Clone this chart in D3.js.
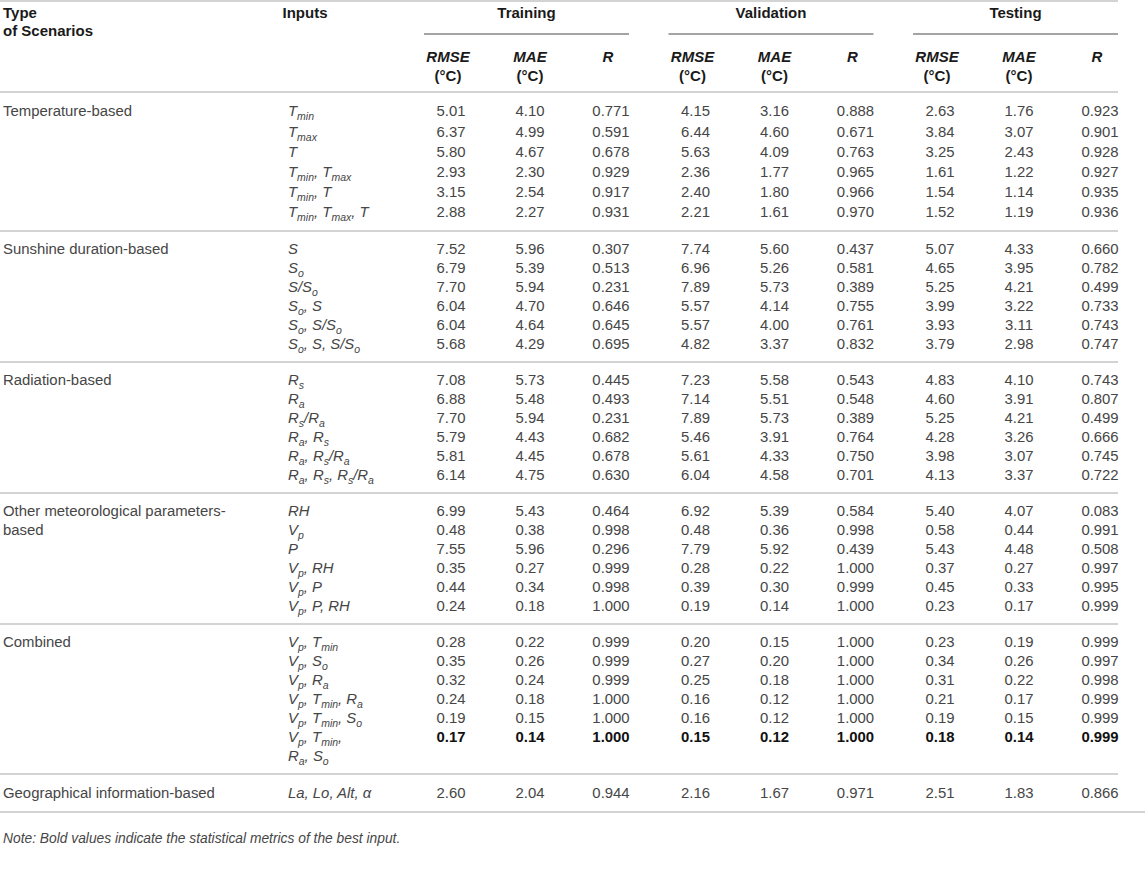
<!DOCTYPE html>
<html lang="en">
<head>
    <meta charset="UTF-8">
    <title>Scenario metrics table</title>
    <style>
        body { margin: 0; background: #fff; }
        svg text { font-family: "Liberation Sans", Arial, Helvetica, sans-serif; }
        .body-text { font-size: 14.9px; fill: #464646; }
        .head-text { font-size: 15px; font-weight: bold; fill: #1a1a1a; }
        .rule { stroke: #c4c4c4; stroke-width: 1.6; }
        .group-rule { stroke: #4a4a4a; stroke-width: 1.2; }
    </style>
    <script src="https://d3js.org/d3.v7.min.js"></script>
</head>
<body>
    <svg width="1145" height="873"></svg>
    <script>
        // scenario names (second entry of a pair is the wrapped line)
        const scenarios = [
            ["Temperature-based"],
            ["Sunshine duration-based"],
            ["Radiation-based"],
            ["Other meteorological parameters-", "based"],
            ["Combined"],
            ["Geographical information-based"]
        ];
        // "_xx" marks a subscript, "|" marks a line break
        const inputs = [
            ["T_min", "T_max", "T", "T_min, T_max", "T_min, T", "T_min, T_max, T"],
            ["S", "S_o", "S/S_o", "S_o, S", "S_o, S/S_o", "S_o, S, S/S_o"],
            ["R_s", "R_a", "R_s/R_a", "R_a, R_s", "R_a, R_s/R_a", "R_a, R_s, R_s/R_a"],
            ["RH", "V_p", "P", "V_p, RH", "V_p, P", "V_p, P, RH"],
            ["V_p, T_min", "V_p, S_o", "V_p, R_a", "V_p, T_min, R_a", "V_p, T_min, S_o", "V_p, T_min,|R_a, S_o"],
            ["La, Lo, Alt, α"]
        ];
        const splits = ["Training", "Validation", "Testing"];
        const metrics = ["RMSE", "MAE", "R"];
        const bestRow = [4, 5]; // group, row shown in bold

        const trainRMSE = [5.01, 6.37, 5.80, 2.93, 3.15, 2.88, 7.52, 6.79, 7.70, 6.04, 6.04, 5.68,
            7.08, 6.88, 7.70, 5.79, 5.81, 6.14, 6.99, 0.48, 7.55, 0.35, 0.44, 0.24,
            0.28, 0.35, 0.32, 0.24, 0.19, 0.17, 2.60];
        const trainMAE = [4.10, 4.99, 4.67, 2.30, 2.54, 2.27, 5.96, 5.39, 5.94, 4.70, 4.64, 4.29,
            5.73, 5.48, 5.94, 4.43, 4.45, 4.75, 5.43, 0.38, 5.96, 0.27, 0.34, 0.18,
            0.22, 0.26, 0.24, 0.18, 0.15, 0.14, 2.04];
        const trainR = [0.771, 0.591, 0.678, 0.929, 0.917, 0.931, 0.307, 0.513, 0.231, 0.646, 0.645, 0.695,
            0.445, 0.493, 0.231, 0.682, 0.678, 0.630, 0.464, 0.998, 0.296, 0.999, 0.998, 1.000,
            0.999, 0.999, 0.999, 1.000, 1.000, 1.000, 0.944];
        const valRMSE = [4.15, 6.44, 5.63, 2.36, 2.40, 2.21, 7.74, 6.96, 7.89, 5.57, 5.57, 4.82,
            7.23, 7.14, 7.89, 5.46, 5.61, 6.04, 6.92, 0.48, 7.79, 0.28, 0.39, 0.19,
            0.20, 0.27, 0.25, 0.16, 0.16, 0.15, 2.16];
        const valMAE = [3.16, 4.60, 4.09, 1.77, 1.80, 1.61, 5.60, 5.26, 5.73, 4.14, 4.00, 3.37,
            5.58, 5.51, 5.73, 3.91, 4.33, 4.58, 5.39, 0.36, 5.92, 0.22, 0.30, 0.14,
            0.15, 0.20, 0.18, 0.12, 0.12, 0.12, 1.67];
        const valR = [0.888, 0.671, 0.763, 0.965, 0.966, 0.970, 0.437, 0.581, 0.389, 0.755, 0.761, 0.832,
            0.543, 0.548, 0.389, 0.764, 0.750, 0.701, 0.584, 0.998, 0.439, 1.000, 0.999, 1.000,
            1.000, 1.000, 1.000, 1.000, 1.000, 1.000, 0.971];
        const testRMSE = [2.63, 3.84, 3.25, 1.61, 1.54, 1.52, 5.07, 4.65, 5.25, 3.99, 3.93, 3.79,
            4.83, 4.60, 5.25, 4.28, 3.98, 4.13, 5.40, 0.58, 5.43, 0.37, 0.45, 0.23,
            0.23, 0.34, 0.31, 0.21, 0.19, 0.18, 2.51];
        const testMAE = [1.76, 3.07, 2.43, 1.22, 1.14, 1.19, 4.33, 3.95, 4.21, 3.22, 3.11, 2.98,
            4.10, 3.91, 4.21, 3.26, 3.07, 3.37, 4.07, 0.44, 4.48, 0.27, 0.33, 0.17,
            0.19, 0.26, 0.22, 0.17, 0.15, 0.14, 1.83];
        const testR = [0.923, 0.901, 0.928, 0.927, 0.935, 0.936, 0.660, 0.782, 0.499, 0.733, 0.743, 0.747,
            0.743, 0.807, 0.499, 0.666, 0.745, 0.722, 0.083, 0.991, 0.508, 0.997, 0.995, 0.999,
            0.999, 0.997, 0.998, 0.999, 0.999, 0.999, 0.866];
        const values = {
            Training: { RMSE: trainRMSE, MAE: trainMAE, R: trainR },
            Validation: { RMSE: valRMSE, MAE: valMAE, R: valR },
            Testing: { RMSE: testRMSE, MAE: testMAE, R: testR }
        };
        const noteText = "Note: Bold values indicate the statistical metrics of the best input.";

        const svg = d3.select("svg");
        const tableRight = 1118;
        // y of the horizontal rules: top, under header, then after each group
        const ruleY = [1, 92, 231, 362, 493, 624, 774, 812];

        // one record per data row, with its text-line slot inside the group
        const rows = [];
        let k = 0;
        inputs.forEach((grp, g) => {
            let slot = 0;
            grp.forEach((inp, r) => {
                const lines = inp.split("|");
                rows.push({ g, r, k, slot, lines, bold: g === bestRow[0] && r === bestRow[1] });
                slot += lines.length;
                k++;
            });
        });

        // a point scale per group spreads its text lines between two rules
        const yScales = inputs.map((grp, g) => {
            const n = d3.sum(rows.filter(d => d.g === g), d => d.lines.length);
            return d3.scalePoint()
                .domain(d3.range(n))
                .range([ruleY[g + 1], ruleY[g + 2]])
                .padding(0.95);
        });
        const base = 5.3; // centre -> baseline
        const rowY = (s, g) => yScales[g](s) + base;

        const xGroup = d3.scaleBand().domain(splits).range([424, tableRight]).paddingInner(0.1616);
        const valOff = d3.scaleOrdinal().domain(metrics).range([27, 106, 187]);
        const headOff = d3.scaleOrdinal().domain(metrics).range([24, 106, 184]);
        const xScen = 3, xInput = 288;

        // horizontal rules
        svg.selectAll("line.rule")
            .data(ruleY)
            .enter()
            .append("line")
            .attr("class", "rule")
            .attr("x1", 0)
            .attr("x2", (d, i) => i === ruleY.length - 1 ? 1145 : tableRight)
            .attr("y1", d => d)
            .attr("y2", d => d);

        // header
        const head = svg.append("g").attr("class", "head-text");
        head.append("text").attr("x", xScen).attr("y", 18).text("Type");
        head.append("text").attr("x", xScen).attr("y", 36).text("of Scenarios");
        head.append("text").attr("x", 305).attr("y", 18).attr("text-anchor", "middle").text("Inputs");

        splits.forEach(sp => {
            const x0 = xGroup(sp);
            head.append("text")
                .attr("x", x0 + xGroup.bandwidth() / 2)
                .attr("y", 18)
                .attr("text-anchor", "middle")
                .text(sp);
            svg.append("line")
                .attr("class", "group-rule")
                .attr("x1", x0).attr("x2", x0 + xGroup.bandwidth())
                .attr("y1", 34).attr("y2", 34);
            metrics.forEach(m => {
                head.append("text")
                    .attr("x", x0 + headOff(m))
                    .attr("y", 62)
                    .attr("text-anchor", "middle")
                    .style("font-style", "italic")
                    .text(m);
                if (m !== "R") {
                    head.append("text")
                        .attr("x", x0 + headOff(m))
                        .attr("y", 81)
                        .attr("text-anchor", "middle")
                        .text("(°C)");
                }
            });
        });

        // scenario names
        scenarios.forEach((lines, g) => {
            lines.forEach((t, i) => {
                svg.append("text")
                    .attr("class", "body-text")
                    .attr("x", xScen)
                    .attr("y", rowY(i, g))
                    .text(t);
            });
        });

        // inputs with subscripts
        rows.forEach(d => {
            d.lines.forEach((ln, i) => {
                const t = svg.append("text")
                    .attr("class", "body-text")
                    .attr("x", xInput)
                    .attr("y", rowY(d.slot + i, d.g))
                    .style("font-style", "italic");
                let shifted = false;
                ln.split(/(_[a-z]+)/).filter(p => p.length).forEach(p => {
                    if (p[0] === "_") {
                        t.append("tspan").attr("dy", 4).style("font-size", "10.5px").text(p.slice(1));
                        shifted = true;
                    } else {
                        t.append("tspan").attr("dy", shifted ? -4 : 0).text(p);
                        shifted = false;
                    }
                });
            });
        });

        // metric values
        splits.forEach(sp => {
            metrics.forEach(m => {
                svg.selectAll(null)
                    .data(rows)
                    .enter()
                    .append("text")
                    .attr("class", "body-text")
                    .attr("x", xGroup(sp) + valOff(m))
                    .attr("y", d => rowY(d.slot, d.g))
                    .attr("text-anchor", "middle")
                    .style("font-weight", d => d.bold ? "bold" : null)
                    .style("fill", d => d.bold ? "#111" : null)
                    .text(d => d3.format(m === "R" ? ".3f" : ".2f")(values[sp][m][d.k]));
            });
        });

        // note
        svg.append("text")
            .attr("x", xScen)
            .attr("y", ruleY[ruleY.length - 1] + 31)
            .style("font-size", "13.8px")
            .style("font-style", "italic")
            .style("fill", "#464646")
            .text(noteText);
    </script>
</body>
</html>
